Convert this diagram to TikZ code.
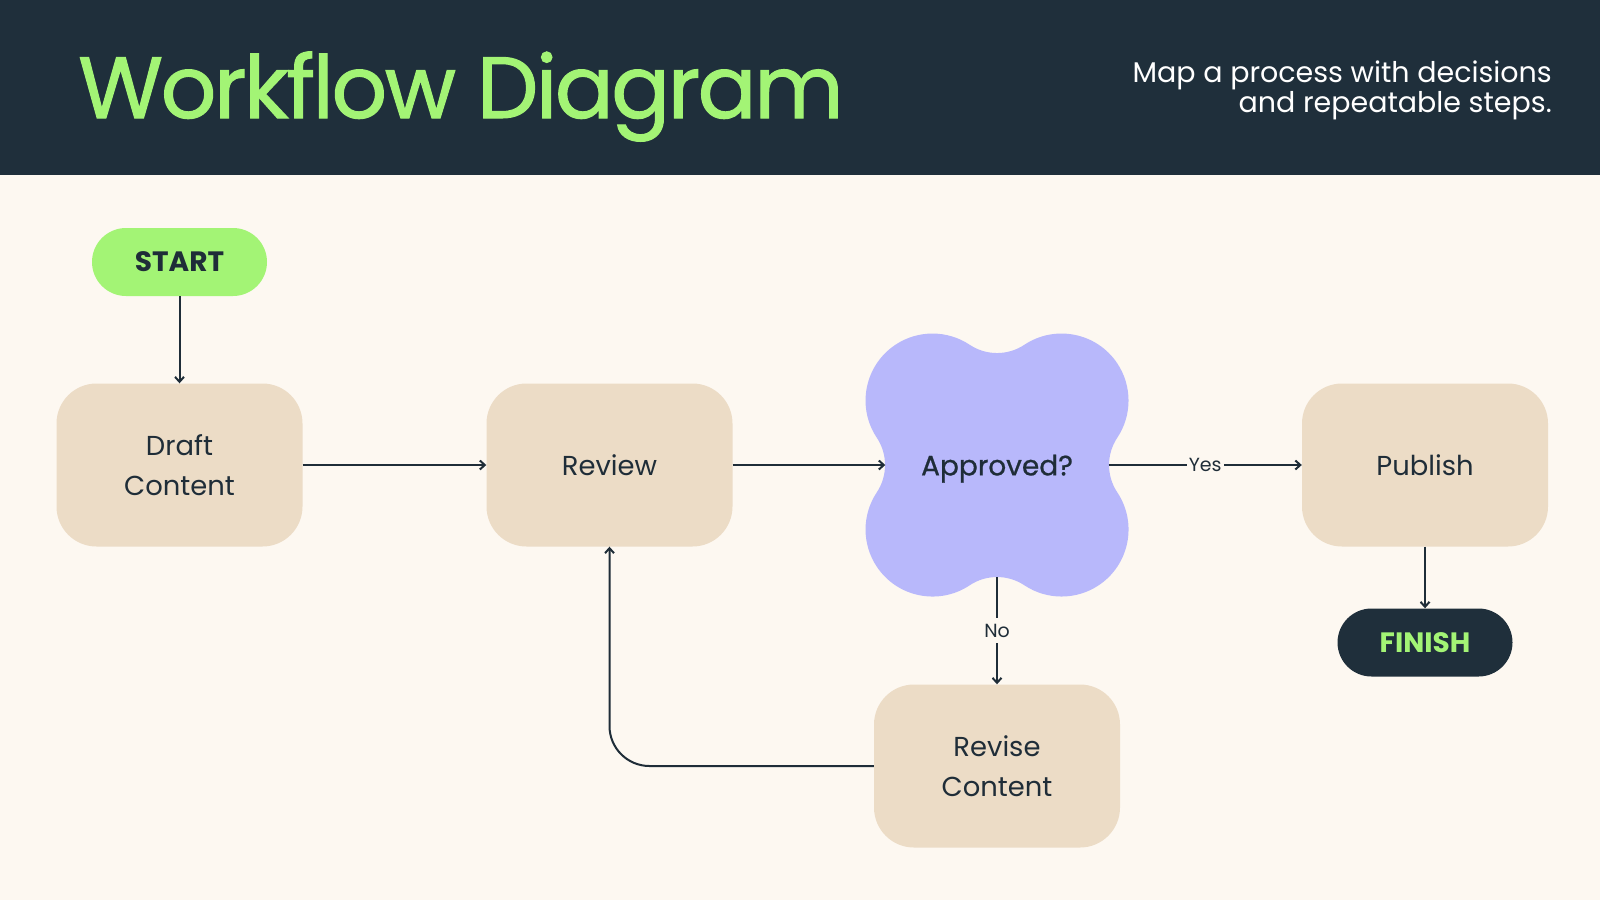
\documentclass[tikz,border=0pt]{standalone}
\usepackage{fontspec}
\setmainfont{Poppins}
\newfontfamily\popmed{Poppins}[FakeBold=0.8]
\newfontfamily\poptitle{Poppins}[FakeBold=1.2, LetterSpace=-2.8]
\usetikzlibrary{arrows.meta}
\definecolor{hdr}{HTML}{1F2F3B}
\definecolor{bgc}{HTML}{FDF8F1}
\definecolor{boxc}{HTML}{ECDCC6}
\definecolor{cloudc}{HTML}{B8B8FB}
\definecolor{grn}{HTML}{A3F475}
\definecolor{ink}{HTML}{1F2D38}
\begin{document}
\begin{tikzpicture}[x=1pt,y=-1pt,
  stepbox/.style={rectangle, rounded corners=40pt, fill=boxc, minimum width=246pt, minimum height=163pt,
    text=ink, font=\fontsize{27.4}{40}\selectfont, align=center, inner sep=0pt},
  pill/.style={rectangle, rounded corners=34pt, minimum width=175pt, minimum height=68pt, inner sep=0pt,
    font=\bfseries\fontsize{28}{28}\selectfont},
  arr/.style={draw=ink, line width=2pt, -{Straight Barb[length=5pt,width=9pt,line width=2pt]}},
  lbl/.style={fill=bgc, text=ink, font=\fontsize{19}{19}\selectfont, inner xsep=2pt, inner ysep=6pt}]
\useasboundingbox (0,0) rectangle (1600,900);
\fill[bgc] (0,0) rectangle (1600,900);
\fill[hdr] (0,0) rectangle (1600,175);
% header texts
\node[anchor=base west, inner sep=0pt, text=grn, font=\poptitle\fontsize{87}{87}\selectfont] (title) at (78,118) {Workflow Diagram};
\node[anchor=north east, inner sep=0pt, text=white, align=right, font=\fontsize{28.5}{30}\selectfont] (sub) at (1552,60.5) {Map a process with decisions\\and repeatable steps.};
% decision cloud
\begin{scope}[shift={(997,465)}]
\fill[cloudc] (120.3,27.4)
  arc[start angle=-33.65, end angle=123.65, radius=67]
  arc[start angle=-56.35, end angle=-123.65, radius=49.4]
  arc[start angle=56.35, end angle=213.65, radius=67]
  arc[start angle=33.65, end angle=-33.65, radius=49.4]
  arc[start angle=146.35, end angle=303.65, radius=67]
  arc[start angle=123.65, end angle=56.35, radius=49.4]
  arc[start angle=236.35, end angle=393.65, radius=67]
  arc[start angle=213.65, end angle=146.35, radius=49.4] -- cycle;
\end{scope}
\node[minimum width=223pt, minimum height=224pt, inner sep=0pt, text depth=0pt, text=ink, font=\popmed\fontsize{28}{28}\selectfont] (appr) at (997,465) {Approved?};
% nodes
\node[pill, fill=grn, text=ink] (start) at (179.5,262) {START};
\node[stepbox] (draft) at (179.5,465) {Draft\\Content};
\node[stepbox] (review) at (609.5,465) {Review};
\node[stepbox] (pub) at (1425,465) {Publish};
\node[stepbox] (revise) at (997,766) {Revise\\Content};
\node[pill, fill=hdr, text=grn] (finish) at (1425,642.5) {FINISH};
% connectors
\draw[arr] (start) -- (draft);
\draw[arr] (draft) -- (review);
\draw[arr] (review) -- (appr.west);
\draw[arr] (appr.east) -- node[lbl] {Yes} (pub.west);
\draw[arr] (appr.south) -- node[lbl] {No} (revise.north);
\draw[arr] (pub) -- (finish);
\draw[arr, rounded corners=40pt] (revise.west) -| (review.south);
\end{tikzpicture}
\end{document}
